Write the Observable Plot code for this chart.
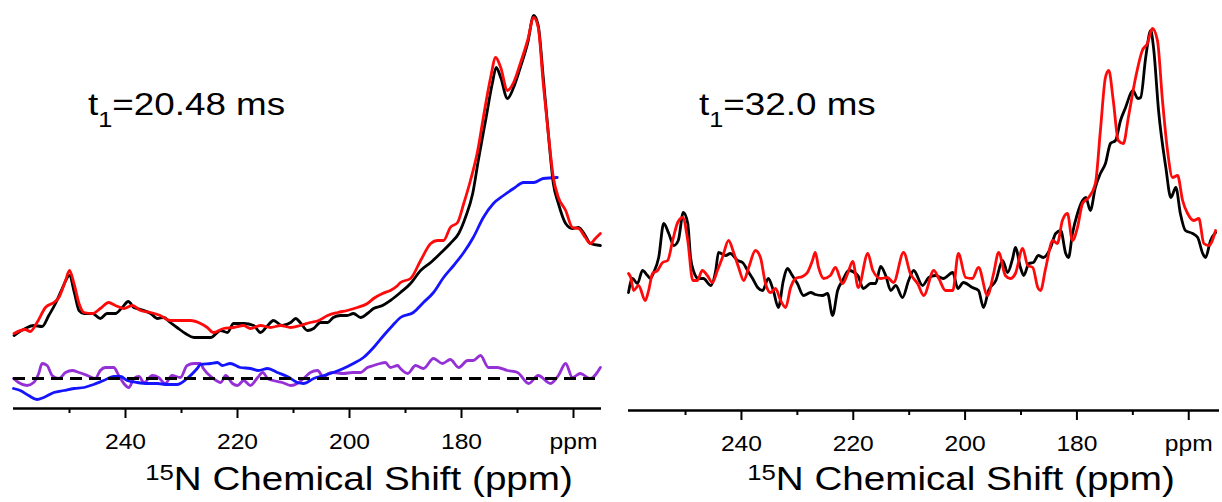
<!DOCTYPE html>
<html>
<head>
<meta charset="utf-8">
<script src="https://cdn.jsdelivr.net/npm/d3@7"></script>
<script src="https://cdn.jsdelivr.net/npm/@observablehq/plot@0.6"></script>
<style>
html,body{margin:0;padding:0;background:#fff;}
#wrap{position:relative;width:1222px;height:502px;overflow:hidden;font-family:"Liberation Sans",Arial,sans-serif;color:#000;}
.panel{position:absolute;top:0;}
.ann{position:absolute;top:88px;font-size:32px;line-height:32px;white-space:nowrap;transform-origin:0 0;transform:scaleX(1.15);}
.sub{font-size:22px;position:relative;top:12px;}
.title{position:absolute;top:462px;font-size:33px;line-height:33px;white-space:nowrap;transform:translateX(-50%) scaleX(1.17);}
.sup{font-size:22px;position:relative;top:-10px;}
</style>
</head>
<body>
<div id="wrap">
  <div class="panel" id="left" style="left:0px"></div>
  <div class="panel" id="right" style="left:611px"></div>
  <div class="ann" style="left:88px">t<span class="sub">1</span>=20.48 ms</div>
  <div class="ann" style="left:699px">t<span class="sub">1</span>=32.0 ms</div>
  <div class="title" style="left:359px"><span class="sup">15</span>N Chemical Shift (ppm)</div>
  <div class="title" style="left:961px"><span class="sup">15</span>N Chemical Shift (ppm)</div>
</div>
<script>
// ---- axis ticks ----
const majorTicks = [240, 220, 200, 180, 160];
const minorTicks = [250, 230, 210, 190, 170];
const tickLabels = ["240", "220", "200", "180", "ppm"];

// ---- left panel (t1 = 20.48 ms) ----
const leftPpmBlack = [259.9,257.9,256.4,254.9,253.7,252.5,251.3,250.0,249.1,248.3,247.4,245.9,244.5,243.3,241.8,240.6,239.5,238.5,237.3,235.5,234.3,233.2,232.0,230.8,229.3,227.8,226.6,
  224.8,223.0,221.8,220.7,218.9,217.1,215.9,214.6,213.6,212.0,210.5,209.6,208.8,207.5,206.4,205.2,203.9,202.9,201.6,200.4,199.3,198.0,196.8,195.7,194.1,192.7,190.9,
  189.1,187.3,185.5,183.8,182.0,180.5,179.3,178.0,177.0,175.7,174.5,173.8,173.0,171.8,170.7,169.5,168.2,167.1,166.3,165.4,164.5,163.6,162.7,161.4,160.2,159.1,157.9,157.0,155.2];
const leftBlack = [43,50,53,52,63,75,90,103,85,68,65,65,60,65,65,71,77,71,69,65,60,61,56,51,45,41,41,
  41,48,46,55,55,53,46,53,58,53,56,60,56,48,50,56,56,61,63,63,65,61,65,70,73,78,86,
  95,108,116,125,135,145,161,185,218,258,295,311,301,280,291,311,335,363,353,301,245,195,175,155,150,151,143,135,133];

const leftPpmRed = [259.9,257.9,257.0,255.8,254.3,252.8,251.9,250.7,250.0,249.2,248.3,247.4,245.9,244.5,243.0,241.8,240.3,238.8,237.3,235.5,233.8,232.0,230.2,228.4,226.6,
  225.4,224.3,222.5,220.7,218.9,217.7,215.9,214.1,212.3,210.5,208.8,207.0,205.5,203.9,202.1,200.4,198.6,196.8,195.7,194.1,192.7,191.4,190.9,
  189.1,187.3,185.5,184.3,183.2,182.0,180.7,179.6,178.4,177.1,176.1,174.8,173.9,173.0,171.8,170.7,169.5,168.2,167.1,166.3,165.4,164.5,163.6,162.7,161.4,160.2,159.1,157.9,157.0,156.1,155.2];
const leftRed = [45,49,47,56,71,76,81,98,108,95,75,66,65,70,76,73,70,73,68,66,63,58,58,58,55,
  51,46,50,51,53,50,53,51,53,51,53,56,58,63,66,68,71,75,80,85,88,93,96,
  100,118,135,138,138,151,156,175,198,228,261,301,321,311,288,296,315,338,361,351,295,245,201,181,168,151,150,141,135,140,145];

const leftPpmBlue = [260.0,258.8,257.3,255.8,254.6,252.8,251.0,249.2,247.4,245.7,243.9,242.1,240.9,239.7,237.9,236.1,234.3,232.6,230.8,229.0,227.2,226.6,
  224.8,223.6,222.7,221.3,219.5,217.7,216.3,214.6,212.9,211.1,209.3,208.2,206.4,204.6,202.9,201.1,199.3,197.5,195.7,193.9,192.3,190.9,
  188.6,186.8,185.0,183.2,181.4,179.6,177.9,176.1,174.3,172.5,170.7,168.9,167.1,165.4,162.9];
const leftBlue = [-10,-12,-17,-21,-19,-14,-12,-10,-9,-6,-2,2,2,-2,-4,-5,-5,-6,-6,0,10,14,
  15,16,13,15,11,10,8,10,6,2,-4,-5,0,3,6,10,15,21,31,43,53,61,
  66,76,86,101,113,126,141,161,175,183,190,196,196,200,201];

const leftPpmPurple = [260.0,259.1,257.6,256.4,255.5,254.9,254.0,253.1,251.9,250.7,249.5,248.3,246.8,245.4,244.5,243.6,242.1,241.2,240.3,239.4,238.5,237.6,236.7,235.2,234.1,232.9,231.7,230.2,229.0,227.8,226.6,
  226.1,224.3,223.0,222.1,220.9,220.0,218.9,217.7,216.4,215.5,214.6,213.6,212.0,210.5,209.3,208.2,207.0,205.7,204.6,203.8,202.9,201.1,199.5,198.0,196.8,195.7,194.5,193.6,192.7,191.4,190.9,
  189.6,188.2,186.8,185.0,183.4,182.0,180.5,178.9,177.9,176.6,175.2,173.6,171.8,170.0,168.0,166.3,164.1,162.7,161.4,160.2,158.8,157.0,155.2];
const leftPurple = [0,-4,-7,-4,5,15,13,3,0,6,8,6,3,0,8,11,11,3,-5,-9,0,2,-4,3,1,-5,3,1,13,15,15,
  10,0,-4,3,-5,-7,-2,-7,1,6,0,-2,-4,-7,-5,0,6,8,1,5,6,5,6,6,11,13,15,16,11,13,10,
  5,13,10,20,15,19,11,18,18,23,11,11,8,6,-5,3,-5,3,15,1,5,0,11];

const leftBaseline = [0];

// ---- right panel (t1 = 32.0 ms) ----
const rightPpmBlack = [260.2,259.5,258.6,257.7,256.8,256.3,255.7,254.8,253.9,253.0,252.1,251.3,250.4,249.6,249.1,248.6,247.7,246.8,245.5,244.6,244.1,242.8,242.0,240.7,239.8,238.9,238.0,237.1,236.2,235.2,234.3,233.4,232.5,231.8,230.9,230.0,228.9,227.6,226.8,
  225.5,224.6,223.7,222.8,221.9,220.8,219.2,218.2,216.9,216.0,215.1,214.2,213.3,212.4,211.2,210.1,209.2,207.6,206.5,205.3,203.9,202.2,201.3,200.3,198.7,197.6,196.7,195.8,194.5,193.3,192.4,191.5,191.0,
  190.1,189.5,188.6,187.8,186.9,186.0,184.7,183.8,182.9,182.0,181.5,180.8,179.9,179.0,178.4,177.6,176.7,175.8,174.9,174.0,173.1,172.2,171.3,170.0,169.1,168.6,167.7,166.8,166.3,165.4,164.1,163.2,162.3,161.5,160.6,159.3,158.4,157.5,157.0,156.1,155.2];
const rightBlack = [88,102,97,110,105,102,108,123,157,147,135,140,168,157,123,110,102,102,95,110,128,125,127,120,118,110,102,93,90,102,90,73,100,112,105,97,85,88,86,
  85,87,65,90,100,110,105,92,97,97,114,105,90,95,83,100,110,95,103,105,102,108,92,98,93,90,73,90,100,120,108,122,133,
  113,105,117,118,125,123,133,147,150,127,123,147,167,180,183,170,193,207,217,237,240,260,273,290,282,283,323,350,333,270,213,183,193,167,150,147,143,127,123,140,148];

const rightPpmRed = [260.2,259.8,259.3,258.4,257.2,256.6,255.9,255.0,254.1,253.2,252.3,251.4,250.5,249.6,248.7,247.9,247.0,246.1,245.2,244.3,243.4,242.3,241.4,240.5,239.6,238.7,237.5,236.6,235.7,234.8,233.9,233.0,232.1,231.2,230.3,229.1,228.2,227.3,226.8,
  226.2,225.3,224.1,223.2,221.9,221.0,220.1,219.1,217.4,216.5,215.1,213.9,212.8,211.0,209.8,208.5,207.4,205.6,204.7,203.5,202.2,201.2,199.9,198.7,197.6,196.0,194.9,194.0,192.8,191.9,191.0,
  189.7,188.8,187.9,187.0,186.5,185.6,184.3,183.5,182.6,181.7,180.8,179.9,179.0,177.9,176.7,175.8,174.9,174.3,173.5,172.6,171.7,170.8,169.5,168.3,167.4,166.5,165.6,164.7,163.8,162.9,162.0,161.1,160.2,159.1,158.2,157.3,156.4,155.2];
const rightRed = [107,103,90,95,80,90,107,110,118,120,140,158,163,140,100,100,110,105,98,110,123,140,128,113,100,113,130,123,97,88,92,80,73,93,102,104,108,120,128,
  113,102,105,113,97,107,119,93,127,110,102,103,98,128,107,97,85,110,102,90,90,127,103,102,113,85,107,128,105,102,107,
  132,115,113,93,90,112,140,137,160,167,140,153,177,183,197,250,303,310,280,240,237,263,303,330,337,352,340,280,230,203,205,180,167,160,162,137,135,150];

// ---- helpers ----
const rows = (xs, ys) => xs.map((x, i) => ({ppm: x, v: ys[i]}));
const FONT = "Liberation Sans, Arial, sans-serif";
const LW = 2.8;

function axisMarks(yMin) {
  return [
    Plot.axisX(majorTicks, {anchor: "bottom", tickSize: 10, tickPadding: 15, strokeWidth: 2,
      tickFormat: d => tickLabels[majorTicks.indexOf(d)], label: null}),
    Plot.axisX(minorTicks, {anchor: "bottom", tickSize: 5, strokeWidth: 2, tickFormat: () => "", label: null}),
    Plot.ruleY([yMin], {stroke: "#000", strokeWidth: 2.5})
  ];
}

const leftPlot = Plot.plot({
  width: 611, height: 458,
  marginLeft: 13, marginRight: 10, marginTop: 0, marginBottom: 50,
  x: {domain: [260, 155]},
  y: {domain: [-30, 378], axis: null},
  style: {background: "transparent", overflow: "visible", fontFamily: FONT, fontSize: "22px", color: "#000"},
  marks: [
    ...axisMarks(-30),
    Plot.line(rows(leftPpmPurple, leftPurple), {x: "ppm", y: "v", stroke: "#9530d6", strokeWidth: LW, curve: "monotone-x"}),
    Plot.line(rows(leftPpmBlue, leftBlue), {x: "ppm", y: "v", stroke: "#1414ff", strokeWidth: LW, curve: "monotone-x"}),
    Plot.ruleY(leftBaseline, {x1: 260, x2: 155.5, stroke: "#000", strokeWidth: 3, strokeDasharray: "12,7"}),
    Plot.line(rows(leftPpmBlack, leftBlack), {x: "ppm", y: "v", stroke: "#000", strokeWidth: LW, curve: "monotone-x"}),
    Plot.line(rows(leftPpmRed, leftRed), {x: "ppm", y: "v", stroke: "#ff0a0a", strokeWidth: LW, curve: "monotone-x"})
  ]
});

const rightPlot = Plot.plot({
  width: 611, height: 458,
  marginLeft: 17, marginRight: 3, marginTop: 0, marginBottom: 48,
  x: {domain: [260.2, 154.5]},
  y: {domain: [-30, 380], axis: null},
  style: {background: "transparent", overflow: "visible", fontFamily: FONT, fontSize: "22px", color: "#000"},
  marks: [
    ...axisMarks(-30),
    Plot.line(rows(rightPpmBlack, rightBlack), {x: "ppm", y: "v", stroke: "#000", strokeWidth: LW, curve: "monotone-x"}),
    Plot.line(rows(rightPpmRed, rightRed), {x: "ppm", y: "v", stroke: "#ff0a0a", strokeWidth: LW, curve: "monotone-x"})
  ]
});

function styleLabels(svg) {
  svg.querySelectorAll("text").forEach(el => {
    el.style.fontSize = "22px";
    el.style.fontFamily = FONT;
    el.style.fill = "#000";
    const t = el.getAttribute("transform") || "";
    el.setAttribute("transform", t + " scale(1.12,1)");
  });
}
styleLabels(leftPlot);
styleLabels(rightPlot);

document.getElementById("left").appendChild(leftPlot);
document.getElementById("right").appendChild(rightPlot);
</script>
</body>
</html>
